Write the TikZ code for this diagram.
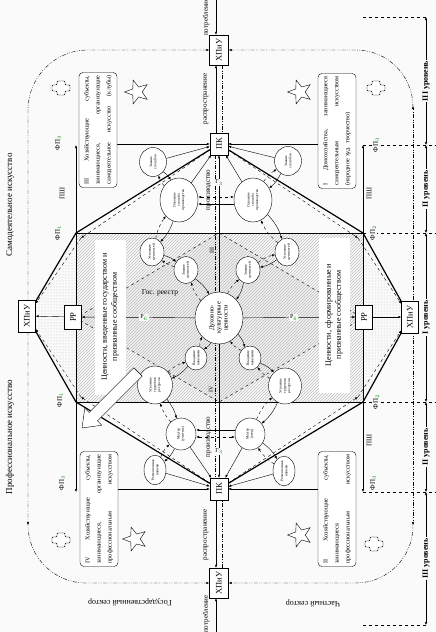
\documentclass[tikz,border=0pt]{standalone}
\usepackage{fontspec}
\setmainfont{Liberation Serif}
\usetikzlibrary{arrows.meta,positioning,shapes.geometric,patterns,backgrounds}
\newcommand{\fpl}[1]{ФП$_{\textcolor{green!55!black}{#1}}$}
\begin{document}
\begin{tikzpicture}[x=1pt,y=-1pt,
  every node/.style={font=\fontsize{7}{8}\selectfont,inner sep=1pt},
  bx/.style={draw,fill=white,rotate=90,font=\fontsize{8.5}{9}\selectfont},
  ov/.style={ellipse,draw,fill=white,rotate=90,align=center,inner sep=0pt,font=\fontsize{3.7}{4.2}\selectfont},
  sub/.style={draw,fill=white,rounded corners=4pt,rotate=90,align=left,minimum width=115pt,minimum height=38pt,text width=109pt,font=\fontsize{6.2}{11}\selectfont},
  vt/.style={rotate=90},
  bg/.style={fill=gray!4},
  arr/.style={-{Latex[length=3pt,width=2.4pt]}},
  darr/.style={{Latex[length=3pt,width=2.4pt]}-{Latex[length=3pt,width=2.4pt]}},
  thk/.style={line width=1.2pt},
  dd/.style={dash pattern=on 4pt off 1.5pt on .8pt off 1.5pt on .8pt off 1.5pt},
  lvl/.style={rotate=90,bg,font=\bfseries\fontsize{8}{9}\selectfont},
  sta/.style={star,star points=5,star point ratio=2.4,draw,fill=white,minimum size=25pt,inner sep=0pt,shape border rotate=90}]
\useasboundingbox (0,0) rectangle (436,632);
% frame points
\coordinate (g1) at (76,145); \coordinate (g2) at (363,145);
\coordinate (f1) at (76,233); \coordinate (f2) at (363,233);
\coordinate (f3) at (76,402); \coordinate (f4) at (363,402);
\coordinate (g3) at (76,492); \coordinate (g4) at (363,492);
\coordinate (h1) at (81,238); \coordinate (h2) at (358,238);
\coordinate (h3) at (81,397); \coordinate (h4) at (358,397);
% axis boxes
\node[bx,minimum width=30pt,minimum height=19pt] (xt) at (219,50) {ХПиУ};
\node[bx,minimum width=22pt,minimum height=18pt] (pt) at (219,144) {ПК};
\node[bx,minimum width=22pt,minimum height=18pt] (pb) at (219,489) {ПК};
\node[bx,minimum width=30pt,minimum height=19pt] (xb) at (219,583) {ХПиУ};
\node[bx,minimum width=32pt,minimum height=17pt] (xl) at (27,316) {ХПиУ};
\node[bx,minimum width=32pt,minimum height=17pt] (xr) at (410,317) {ХПиУ};
\node[bx,minimum width=24pt,minimum height=17pt] (rl) at (73,317) {РР};
\node[bx,minimum width=24pt,minimum height=17pt] (rr) at (364,317) {РР};
% value boxes
\node[rotate=90,fill=white,align=center,minimum width=155pt,minimum height=31pt,font=\fontsize{8}{10}\selectfont] (vl) at (110,317) {Ценности, введенные государством и\\признанные сообществом};
\node[rotate=90,fill=white,align=center,minimum width=155pt,minimum height=31pt,font=\fontsize{8}{10}\selectfont] (vr) at (334,315) {Ценности, сформированные и\\признанные сообществом};
\node (gr) at (160,293) {\fontsize{7.5}{8}\selectfont Гос. реестр};
% circles
\node[ov,minimum width=29pt,minimum height=27pt] (a1) at (153,162) {Знание\\способов};
\node[ov,minimum width=44pt,minimum height=38pt] (a2) at (179,200) {Освоение\\способа\\производства};
\node[ov,minimum width=29pt,minimum height=27pt] (a3) at (288,161) {Знание\\способов};
\node[ov,minimum width=44pt,minimum height=38pt] (a4) at (253,200) {Освоение\\способа\\производства};
\node[ov,minimum width=28pt,minimum height=24pt] (b1) at (152,252) {Усвоение\\ценностей};
\node[ov,minimum width=27pt,minimum height=24pt] (b2) at (186,270) {Знание\\ценностей};
\node[ov,minimum width=28pt,minimum height=24pt] (b3) at (287,252) {Усвоение\\ценностей};
\node[ov,minimum width=27pt,minimum height=24pt] (b4) at (248,270) {Знание\\ценностей};
\node[ov,minimum width=52pt,minimum height=48pt,font=\fontsize{6.5}{7}\selectfont] (c) at (219,318) {Духовно-\\культурные\\ценности};
\node[ov,minimum width=24pt,minimum height=22pt] (d1) at (196,358) {Владение\\навыками};
\node[ov,minimum width=38pt,minimum height=35pt] (d2) at (155,385) {Усвоение\\трудовых\\ресурсов};
\node[ov,minimum width=24pt,minimum height=22pt] (d3) at (250,358) {Владение\\навыками};
\node[ov,minimum width=36pt,minimum height=33pt] (d4) at (285,386) {Усвоение\\трудовых\\ресурсов};
\node[ov,minimum width=32pt,minimum height=30pt] (e1) at (181,434) {Мастер\\(учитель)};
\node[ov,minimum width=25pt,minimum height=22pt] (e2) at (155,470) {Ремесленные\\навыки};
\node[ov,minimum width=32pt,minimum height=30pt] (e3) at (250,434) {Мастер\\(отец)};
\node[ov,minimum width=25pt,minimum height=22pt] (e4) at (284,471) {Ремесленные\\навыки};
% subjects
\node[sub] (s3) at (98,130) {III\hfill Хозяйствующие\hfill субъекты,\\занимающиеся,\hfill организующие\\самодеятельное\hfill искусство\hfill (клубы)};
\node[sub] (s1) at (337,131) {I\hfill Домохозяйства,\hfill занимающиеся\\самодеятельным\hfill искусством\\(народное худ. творчество)};
\node[sub] (s4) at (99,509) {IV\hfill Хозяйствующие\hfill субъекты,\\занимающиеся,\hfill организующие\\профессиональным\hfill искусством};
\node[sub] (s2) at (337,509) {II\hfill Хозяйствующие\hfill субъекты,\\занимающиеся\\профессиональным\hfill искусством};
% stars and crosses
\node[sta] (st1) at (137,92) {}; \node[sta] (st2) at (300,92) {};
\node[sta] (st3) at (135,539) {}; \node[sta] (st4) at (300,535) {};
\foreach \cx/\cy in {61/88,376/88,61/540,374/544}
  \draw[fill=white,rounded corners=1pt] (\cx-4,\cy-7) -- ++(8,0) -- ++(0,4) -- ++(5,0) -- ++(0,6) -- ++(-5,0) -- ++(0,4) -- ++(-8,0) -- ++(0,-4) -- ++(-5,0) -- ++(0,-6) -- ++(5,0) -- cycle;
% big arrow
\draw[fill=white] (133.8,367.8) -- (89.1,412.5) -- (84.8,408.2) -- (82,428) -- (101.8,425.2) -- (97.5,420.9) -- (142.2,376.2) -- cycle;
% side texts
\node[vt] (t1) at (10,205) {\fontsize{9}{9}\selectfont Самодеятельное искусство};
\node[vt] (t2) at (10,437) {\fontsize{9}{9}\selectfont Профессиональное искусство};
\node[rotate=180] (t3) at (130,602) {\fontsize{8}{8}\selectfont Государственный сектор};
\node[rotate=180] (t4) at (313,603) {\fontsize{8}{8}\selectfont Частный сектор};
\node[vt] (p1) at (206,17) {потребление};
\node[vt] (p2) at (206,99) {распространение};
\node[vt] (p3) at (209,190) {производство};
\node[vt] (p4) at (209,437) {производство};
\node[vt] (p5) at (206,535) {распространение};
\node[vt] (p6) at (206,614) {потребление};
\begin{pgfonlayer}{background}
\fill[bg] (0,0) rectangle (436,632);
\fill[gray!12] (219,233) -- (f2 |- c) -- (219,402) -- (f1 |- c) -- cycle;
\fill[pattern=north east lines,pattern color=gray!50] (f1) rectangle (f4);
\fill[pattern=dots,pattern color=gray!50] (f1) -- (xl.center) -- (f3) -- cycle;
\fill[pattern=dots,pattern color=gray!50] (f2) -- (xr.center) -- (f4) -- cycle;
\draw[dashed] (219,233) -- (f2 |- c) -- (219,402) -- (f1 |- c) -- cycle;
% frame
\draw[arr] (f1) -- (g1); \draw[arr] (f2) -- (g2); \draw[arr] (f3) -- (g3); \draw[arr] (f4) -- (g4);
\draw (f1) -- (f3); \draw (f2) -- (f4); \draw (f1) -- (f2); \draw (f3) -- (f4);
\draw[thk] (pt) -- (f1) -- (xl) -- (f3) -- (pb) -- (f4) -- (xr) -- (f2) -- (pt);
\draw[dashed,arr] ([yshift=-6pt]pt.north) -- (h1); \draw[dashed,arr] (h1) -- (xl);
\draw[dashed,arr] ([yshift=-6pt]pt.south) -- (h2); \draw[dashed,arr] (h2) -- (xr);
\draw[dashed,arr] ([yshift=6pt]pb.north) -- (h3); \draw[dashed,arr] (h3) -- (xl);
\draw[dashed,arr] ([yshift=6pt]pb.south) -- (h4); \draw[dashed,arr] (h4) -- (xr);
% axis
\coordinate (t0) at (216,0); \coordinate (t9) at (216,632);
\draw[arr] (t0) -- (t0 |- xt.east); \draw[arr] (t9) -- (t9 |- xb.west);
\draw[arr] (t0 |- pt.east) -- (t0 |- xt.west); \draw[arr] (t0 |- pb.west) -- (t0 |- xb.east);
\draw[dd] ([xshift=3pt]xt.west) -- ([xshift=3pt]pt.east); \draw[dd] ([xshift=3pt]xb.east) -- ([xshift=3pt]pb.west);
\draw[dd] ([xshift=-4pt]pt.west) -- ([xshift=-4pt]pb.east);
\draw[arr] (c) -- node[pos=.8,bg,font=\fontsize{6}{6}\selectfont] (g3l) {Г$_{\textcolor{green!55!black}{3}}$} (pt);
\draw[arr] (c) -- node[pos=.8,bg,font=\fontsize{6}{6}\selectfont] (g3m) {Г$_{\textcolor{green!55!black}{3}}$} (pb);
\node[vt,font=\fontsize{6}{6}\selectfont] (r3) at (212,250) {III};
\node[vt,font=\fontsize{6}{6}\selectfont] (r4) at (211,389) {IV};
% horizontal axis
\draw[arr] (rl) -- (xl); \draw[arr] (rr) -- (xr);
\draw[arr] (c) -- node[pos=.45,bg,font=\fontsize{6}{6}\selectfont] (r6l) {Р$_{\textcolor{green!55!black}{6}}$} (rl);
\draw[arr] (c) -- node[pos=.45,bg,font=\fontsize{6}{6}\selectfont] (r6r) {Р$_{\textcolor{green!55!black}{6}}$} (rr);
% subjects to ПК
\draw[arr] (s3.south |- pt) -- (pt); \draw[arr] (s1.north |- pt) -- (pt);
\draw[arr] (s4.south |- pb) -- (pb); \draw[arr] (s2.north |- pb) -- (pb);
% circles
\foreach \a/\b in {a1/a2,a2/b1,b1/b2,b2/c,a3/a4,a4/b3,b3/b4,b4/c,c/d1,d1/d2,d2/e1,e1/e2,c/d3,d3/d4,d4/e3,e3/e4}
  {\draw[arr] (\a) to[bend left=12] (\b); \draw[arr,dashed] (\b) to[bend left=12] (\a);}
\foreach \a in {a1,a2,a3,a4} \draw[arr] (\a) -- (pt);
\foreach \a in {e1,e2,e3,e4} \draw[arr] (\a) -- (pb);
\draw[darr,dashed] ([yshift=3pt]a2.south) -- ([yshift=3pt]a4.north); \draw[arr] ([yshift=-4pt]a4.north) -- ([yshift=-4pt]a2.south);
\draw[darr,dashed] ([yshift=-3pt]e1.south) -- ([yshift=-3pt]e3.north); \draw[arr] ([yshift=4pt]e3.north) -- ([yshift=4pt]e1.south);
% sector loops
\draw[dd,darr,rounded corners=60pt] (xt.north) -- (28,50) -- (28,525);
\draw[dd,arr,rounded corners=58pt] (28,522) -- (28,583) -- (xb.north);
\draw[dd,arr] (413,320) -- (413,106); \draw[dd,arr,rounded corners=57pt] (413,108) -- (413,50) -- (xt.south);
\draw[dd,arr] (413,320) -- (413,525); \draw[dd,arr,rounded corners=57pt] (413,522) -- (413,583) -- (xb.south);
% levels
\draw[dashed] (363,17) -- (426,17); \draw[dashed] (363,625) -- (426,625);
\draw[dashed] (g2) -- (436,145); \draw[dashed] (f2) -- (436,233); \draw[dashed] (f4) -- (436,402); \draw[dashed] (g4) -- (436,492);
\coordinate (l0) at (426,17); \coordinate (l1) at (426,145); \coordinate (l2) at (426,233);
\coordinate (l3) at (426,402); \coordinate (l4) at (426,492); \coordinate (l5) at (426,625);
\draw[darr] (l0) -- node[lvl] (v1) {III уровень} (l1);
\draw[darr] (l1) -- node[lvl] (v2) {II уровень} (l2);
\draw[darr] (l2) -- node[lvl] (v3) {I уровень} (l3);
\draw[darr] (l3) -- node[lvl] (v4) {II уровень} (l4);
\draw[darr] (l4) -- node[lvl] (v5) {III уровень} (l5);
% FP labels
\node[vt,bg] (q1) at (58,143) {\fpl{3}}; \node[vt,bg] (q2) at (62,193) {ПШ};
\node[vt,bg] (q3) at (58,233) {\fpl{1}}; \node[vt,bg] (q4) at (60,400) {\fpl{1}};
\node[vt,bg] (q5) at (62,483) {\fpl{3}};
\node[vt,bg] (q6) at (376,145) {\fpl{3}}; \node[vt,bg] (q7) at (369,193) {ПШ};
\node[vt,bg] (q8) at (373,233) {\fpl{2}}; \node[vt,bg] (q9) at (376,402) {\fpl{2}};
\node[vt,bg] (q10) at (369,440) {ПШ}; \node[vt,bg] (q11) at (373,483) {\fpl{3}};
\end{pgfonlayer}
\end{tikzpicture}
\end{document}
